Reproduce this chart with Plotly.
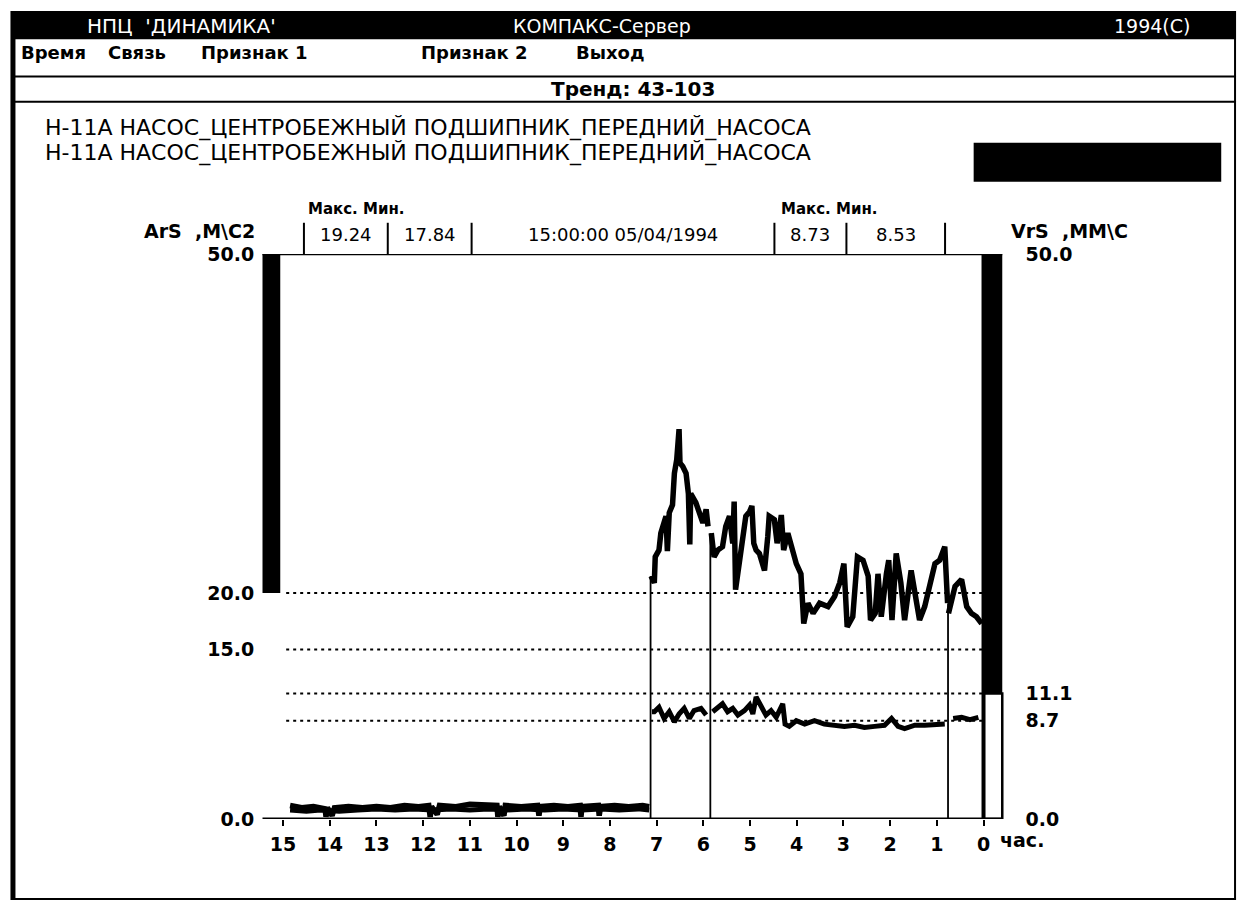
import plotly.graph_objects as go

W, H = 1245, 913

# ---------------- data ----------------
# Channel 1 (ArS, m/s2) - hours before the current moment; None marks a recording gap
hours_a = [14.85, 14.6, 14.35, 14.1, 14.08, 14.05, 13.95, 13.9, 13.6, 13.3, 13.0, 12.7, 12.4, 12.1,
           11.88, 11.85, 11.82, 11.7, 11.65, 11.3, 11.0, 10.7, 10.42, 10.4, 10.37, 10.27, 10.24,
           9.9, 9.55, 9.52, 9.49, 9.2, 8.9, 8.64, 8.62, 8.6, 8.25, 8.23, 8.2, 7.9, 7.6, 7.3, 7.16,
           7.14,
           7.12, 7.05, 7.03, 6.95, 6.91, 6.84, 6.80, 6.77, 6.73, 6.66, 6.62, 6.57, 6.52, 6.50, 6.44,
           6.37, 6.32, 6.29, 6.27, 6.16, 6.09, 6.01, 5.94, 5.90, 5.85, 5.83, 5.77, 5.69, 5.59, 5.52,
           5.44, 5.37, 5.34, 5.31, 5.23, 5.16, 5.09, 5.01, 4.96, 4.92, 4.87, 4.80, 4.69, 4.62, 4.59,
           4.48, 4.42, 4.33, 4.28, 4.19, 4.08, 4.01, 3.91, 3.85, 3.76, 3.65, 3.51, 3.33, 3.19, 3.08,
           2.99, 2.92, 2.80, 2.70, 2.58, 2.47, 2.42, 2.32, 2.26, 2.19, 2.08, 2.03, 1.96, 1.87, 1.77,
           1.69, 1.55, 1.44, 1.37, 1.26, 1.12, 1.04, 0.94, 0.86, 0.83, 0.77, 0.76, 0.75, 0.61, 0.47,
           0.36, 0.26, 0.15, 0.04]
acc_a = [1.2, 1.0, 1.1, 0.9, 0.2, 1.0, 0.3, 1.0, 1.1, 1.0, 1.1, 1.0, 1.2, 1.1,
         1.2, 0.2, 1.1, 0.4, 1.2, 1.1, 1.3, 1.2, 1.2, 0.2, 1.1, 0.3, 1.2,
         1.1, 1.2, 0.3, 1.1, 1.2, 1.1, 1.2, 0.2, 1.1, 1.2, 0.3, 1.1, 1.2, 1.1, 1.2, 1.1,
         None,
         21.5, 20.9, 23.2, 23.8, 25.3, 26.2, 26.8, 23.7, 27.1, 27.8, 30.6, 31.8, 34.5, 31.5, 31.2,
         30.6, 28.8, 24.3, 28.8, 28.0, 27.1, 26.2, 27.4, 25.9, None, 25.3, 23.2, 23.8, 24.1, 25.9,
         26.8, 24.4, 28.1, 20.3, 22.6, 24.4, 26.8, 27.2, 27.7, 24.4, 23.8, 23.5, 22.0, 25.0, 26.8,
         26.5, 24.4, 26.9, 23.8, 25.3, 23.8, 22.6, 21.7, 17.3, 19.1, 18.2, 19.1, 18.8, 19.7, 20.9,
         22.6, 17.0, 17.9, 23.2, 22.9, 21.5, 17.6, 18.2, 21.7, 17.9, 21.7, 22.9, 17.6, 23.5, 20.9,
         17.6, 22.0, 19.1, 17.6, 18.8, 21.5, 22.6, 22.9, 23.8, 24.1, 19.1, None, 18.2, 20.6, 21.2,
         18.8, 18.2, 17.9, 17.3]

# Channel 2 (VrS, mm/s)
hours_v = [14.85, 14.5, 14.2, 13.8, 13.4, 13.0, 12.6, 12.2, 11.8, 11.4, 11.0, 10.6, 10.2, 9.8,
           9.4, 9.0, 8.6, 8.2, 7.8, 7.4, 7.16, 7.14,
           7.10, 7.05, 6.95, 6.84, 6.73, 6.62, 6.52, 6.41, 6.30, 6.20, 6.05, 5.94, 5.85, 5.80,
           5.69, 5.59, 5.48, 5.37, 5.26, 5.12, 5.01, 4.94, 4.87, 4.76, 4.66, 4.55, 4.44, 4.30,
           4.25, 4.16, 4.01, 3.83, 3.62, 3.41, 3.19, 2.98, 2.76, 2.55, 2.33, 2.12, 1.97, 1.83,
           1.69, 1.47, 1.26, 1.04, 0.83, 0.76, 0.65, 0.47, 0.29, 0.11]
vel_v = [0.8, 0.7, 0.8, 0.7, 0.8, 0.9, 0.8, 0.9, 0.8, 0.9, 0.8, 0.9, 0.8, 0.9,
         0.8, 0.9, 0.8, 0.9, 0.8, 0.9, 0.8, None,
         9.5, 9.5, 9.9, 8.9, 9.5, 8.6, 9.3, 9.8, 8.9, 9.6, 9.8, 9.2, None, 9.5,
         9.9, 10.2, 9.5, 9.8, 9.2, 9.6, 10.1, 9.3, 10.8, 9.9, 9.2, 9.6, 9.0, 10.2,
         8.4, 8.2, 8.7, 8.4, 8.7, 8.4, 8.3, 8.2, 8.3, 8.1, 8.2, 8.3, 8.9, 8.2,
         8.0, 8.3, 8.3, 8.4, 8.4, None, 8.9, 9.0, 8.8, 9.0]

# recording gaps: time and the level the marker reaches
gap_hours = [7.13, 5.85, 0.76]
gap_tops = [21.5, 25.3, 19.1]

hour_ticks = list(range(15, -1, -1))
hour_labels = [str(h) for h in hour_ticks]
left_ticks = [0, 15, 20, 50]
left_labels = ["0.0", "15.0", "20.0", "50.0"]
right_ticks = [0, 8.7, 11.1, 50]
right_labels = ["0.0", "8.7", "11.1", "50.0"]
limit_a = 20.0
limit_v = 11.1
levels_a = [20.0, 15.0]
levels_v = [11.1, 8.7]

menu_items = ["Время", "Связь", "Признак 1", "Признак 2", "Выход"]
menu_x = [9, 97, 192, 415, 572]
channel_name = "Н-11А НАСОС_ЦЕНТРОБЕЖНЫЙ ПОДШИПНИК_ПЕРЕДНИЙ_НАСОСА"
readout_text = ["19.24", "17.84", "15:00:00 05/04/1994", "8.73", "8.53"]
readout_sep = [298, 383, 468, 775, 848, 948]

# ---------------- helpers ----------------
def X(px):
    return px / W


def Y(py):
    return 1 - py / H


FONT = "DejaVu Sans"
AX_FONT = dict(family=FONT, size=19, color="black", weight="bold")

PLOT_L, PLOT_R, PLOT_T, PLOT_B = 274, 987, 249, 828

fig = go.Figure()

fig.add_trace(go.Scatter(x=hours_a, y=acc_a, mode="lines", connectgaps=False,
                         line=dict(color="black", width=5.5), xaxis="x", yaxis="y",
                         hoverinfo="skip", showlegend=False))
fig.add_trace(go.Scatter(x=hours_v, y=vel_v, mode="lines", connectgaps=False,
                         line=dict(color="black", width=5), xaxis="x", yaxis="y2",
                         hoverinfo="skip", showlegend=False))
for gh, gt in zip(gap_hours, gap_tops):
    fig.add_trace(go.Scatter(x=[gh, gh], y=[0, gt], mode="lines",
                             line=dict(color="black", width=1.8), xaxis="x", yaxis="y",
                             hoverinfo="skip", showlegend=False))

shapes = []


def pline(x0, y0, x1, y1, w=2):
    shapes.append(dict(type="line", xref="paper", yref="paper", x0=X(x0), x1=X(x1), y0=Y(y0), y1=Y(y1),
                       line=dict(color="black", width=w)))


# page frame
shapes.append(dict(type="rect", xref="paper", yref="paper", x0=X(2), x1=X(1243), y0=Y(0), y1=Y(29),
                   fillcolor="black", line=dict(width=0)))
pline(2, 67, 1243, 67)
pline(2, 93, 1243, 93)
pline(3, 0, 3, 911, 5)
pline(1242, 0, 1242, 911, 2)
pline(2, 910, 1243, 910, 2)
# status box
shapes.append(dict(type="rect", xref="paper", yref="paper", x0=X(977), x1=X(1228), y0=Y(135), y1=Y(175),
                   fillcolor="black", line=dict(width=0)))
# readout separators
for sx in readout_sep:
    pline(sx, 217, sx, PLOT_T)
# gauges
shapes.append(dict(type="rect", xref="paper", yref="y", x0=X(256), x1=X(PLOT_L), y0=limit_a, y1=50,
                   fillcolor="black", line=dict(width=0)))
shapes.append(dict(type="rect", xref="paper", yref="y2", x0=X(PLOT_R), x1=X(1006), y0=limit_v, y1=50,
                   fillcolor="black", line=dict(width=0)))
shapes.append(dict(type="rect", xref="paper", yref="y2", x0=X(PLOT_R), x1=X(1006), y0=0, y1=limit_v,
                   fillcolor="white", line=dict(color="black", width=2.5)))
shapes.append(dict(type="line", xref="paper", yref="y", x0=X(PLOT_R), x1=X(PLOT_R), y0=0, y1=50,
                   line=dict(color="black", width=4)))
# frame top / bottom
shapes.append(dict(type="line", xref="paper", yref="y", x0=X(256), x1=X(1006), y0=50, y1=50,
                   line=dict(color="black", width=2.5)))
shapes.append(dict(type="line", xref="paper", yref="y", x0=X(256), x1=X(1006), y0=0, y1=0,
                   line=dict(color="black", width=3)))
# reference levels
for lv in levels_a:
    shapes.append(dict(type="line", xref="paper", yref="y", x0=X(280), x1=X(PLOT_R), y0=lv, y1=lv,
                       line=dict(color="black", width=2, dash="3px,4px")))
for lv in levels_v:
    shapes.append(dict(type="line", xref="paper", yref="y2", x0=X(280), x1=X(PLOT_R), y0=lv, y1=lv,
                       line=dict(color="black", width=2, dash="3px,4px")))

ann = []


def text(s, px, py, anchor="left", color="black", size=18, bold=True):
    ann.append(dict(text=s, x=X(px), y=Y(py), xref="paper", yref="paper", xanchor=anchor,
                    yanchor="middle", showarrow=False,
                    font=dict(family=FONT, size=size, color=color,
                              weight="bold" if bold else "normal")))


# header
text("НПЦ  'ДИНАМИКА'", 76, 15, color="white", bold=False, size=20)
text("КОМПАКС-Сервер", 600, 15, anchor="center", color="white", bold=False, size=19)
text("1994(C)", 1198, 15, anchor="right", color="white", bold=False, size=19)
for s, mx in zip(menu_items, menu_x):
    text(s, mx, 43)
text("Тренд: 43-103", 632, 80, anchor="center", size=20)
text(channel_name, 33, 120, bold=False, size=22)
text(channel_name, 33, 146, bold=False, size=22)
# readout block
text("ArS  ,М\\С2", 250, 225, anchor="right", size=19)
text("Макс. Мин.", 300, 203, size=15)
text("Макс. Мин.", 780, 203, size=15)
for s, a, b in zip(readout_text, readout_sep[:-1], readout_sep[1:]):
    text(s, (a + b) / 2, 229, anchor="center", bold=False, size=18)
text("VrS  ,ММ\\С", 1013, 225, size=19)
text("час.", 1002, 849, size=19)

fig.update_layout(
    width=W, height=H, autosize=False,
    margin=dict(l=0, r=0, t=0, b=0),
    paper_bgcolor="white", plot_bgcolor="white",
    showlegend=False,
    shapes=shapes, annotations=ann,
    xaxis=dict(domain=[X(PLOT_L), X(PLOT_R)], range=[15.06, 0], tickvals=hour_ticks, ticktext=hour_labels,
               ticks="outside", ticklen=6, tickwidth=2, tickcolor="black", showline=False,
               showgrid=False, zeroline=False, tickfont=AX_FONT, ticklabelstandoff=2, fixedrange=True),
    yaxis=dict(domain=[Y(PLOT_B), Y(PLOT_T)], range=[0, 50], tickvals=left_ticks, ticktext=left_labels,
               ticks="", showline=False, showgrid=False, zeroline=False, tickfont=AX_FONT,
               ticklabelstandoff=25, fixedrange=True),
    yaxis2=dict(domain=[Y(PLOT_B), Y(PLOT_T)], range=[0, 50], overlaying="y", side="right",
                anchor="x", tickvals=right_ticks, ticktext=right_labels, ticks="", showline=False,
                showgrid=False, zeroline=False, tickfont=AX_FONT, ticklabelstandoff=41, fixedrange=True),
)

fig.write_html("out.html")
